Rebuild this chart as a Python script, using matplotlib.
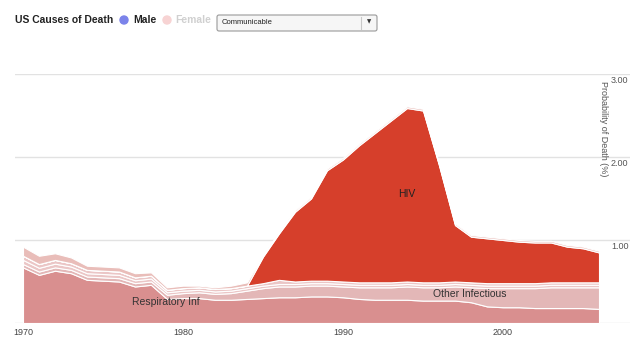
#!/usr/bin/env python3
import matplotlib
matplotlib.use("Agg")
import matplotlib.pyplot as plt
from matplotlib.patches import FancyBboxPatch, Circle

plt.rcParams['font.family'] = ['Liberation Sans', 'DejaVu Sans']

years = list(range(1970, 2007))

# probability of death (%) by cause, stacked bottom to top
respiratory_inf = [0.67, 0.58, 0.63, 0.60, 0.52, 0.51, 0.50, 0.44, 0.46, 0.29,
                   0.30, 0.30, 0.28, 0.28, 0.29, 0.30, 0.31, 0.31, 0.32, 0.32,
                   0.31, 0.29, 0.28, 0.28, 0.28, 0.27, 0.27, 0.27, 0.25, 0.20,
                   0.19, 0.19, 0.18, 0.18, 0.18, 0.18, 0.17]
other_infectious = [0.04, 0.04, 0.04, 0.04, 0.04, 0.04, 0.04, 0.04, 0.04, 0.05,
                    0.06, 0.07, 0.07, 0.08, 0.10, 0.12, 0.13, 0.13, 0.13, 0.13,
                    0.13, 0.14, 0.15, 0.15, 0.16, 0.16, 0.16, 0.17, 0.18, 0.22,
                    0.23, 0.23, 0.24, 0.25, 0.25, 0.25, 0.26]
minor_a = [0.05, 0.045, 0.045, 0.04, 0.04, 0.04, 0.04, 0.035, 0.035, 0.03] + [0.03] * 27
minor_b = ([0.05, 0.045, 0.045, 0.04, 0.04, 0.04, 0.04, 0.035, 0.035, 0.03]
           + [0.03, 0.03, 0.03, 0.03, 0.03, 0.03, 0.05, 0.03, 0.03, 0.03] + [0.03] * 17)
hiv = [0.0] * 15 + [0.32, 0.56, 0.84, 0.99, 1.33,
                    1.47, 1.65, 1.80, 1.95, 2.09, 2.07, 1.41, 0.68, 0.55, 0.54,
                    0.52, 0.50, 0.49, 0.48, 0.43, 0.41, 0.36]
minor_top = [0.11, 0.10, 0.08, 0.07, 0.05, 0.05, 0.05, 0.05, 0.04, 0.03,
             0.03, 0.02, 0.02, 0.03, 0.04] + [0.02] * 22

layer_colors = ['#d98f8f', '#e3b7b7', '#ebc6c6', '#ebc6c6', '#d63f2b', '#e9bdb9']
y_ticks = [1.0, 2.0, 3.0]

fig = plt.figure(figsize=(6.4, 3.6), dpi=100)
ax = fig.add_axes([15 / 640, 1 - 323 / 360, 615 / 640, 249 / 360])
x0 = 1970 - 8 / 16
x1 = 1970 + 607 / 16
ax.set_xlim(x0, x1)
ax.set_ylim(0, 3.0)
ax.axis('off')

for v in [0] + y_ticks:
    ax.axhline(v, color='#e2e2e2', lw=1, zorder=0)

ax.stackplot(years, respiratory_inf, other_infectious, minor_a, minor_b, hiv, minor_top,
             colors=layer_colors, edgecolor='white', linewidth=0.8, zorder=2)

# tick labels on the right
for v in y_ticks:
    ax.text(x1 - 0.1, v - 0.025, f'{v:.2f}', ha='right', va='top',
            fontsize=6.5, color='#555555')
ax.text(2006.3, 2.34, 'Probability of Death (%)', rotation=-90, ha='center',
        va='center', fontsize=6.5, color='#555555')
for yr in [1970, 1980, 1990, 2000]:
    ax.text(yr, -0.06, str(yr), ha='center', va='top', fontsize=6.5,
            color='#444444', clip_on=False)

# series labels
ax.text(1978.9, 0.25, 'Respiratory Inf', ha='center', va='center', fontsize=7.5, color='#333333')
ax.text(1994.0, 1.56, 'HIV', ha='center', va='center', fontsize=7.5, color='#222222')
ax.text(1997.9, 0.35, 'Other Infectious', ha='center', va='center', fontsize=7.5, color='#333333')

# header
fig.text(15 / 640, 1 - 20 / 360, 'US Causes of Death', fontsize=7.5, fontweight='bold',
         color='#222222', va='center')
fig.patches.append(Circle((124, 340), 4, transform=None, color='#7b83ea'))
fig.text(133 / 640, 1 - 20 / 360, 'Male', fontsize=7.5, fontweight='bold',
         color='#222222', va='center')
fig.patches.append(Circle((167, 340), 4, transform=None, color='#f7d3d3'))
fig.text(175 / 640, 1 - 20 / 360, 'Female', fontsize=7.5, fontweight='bold',
         color='#d0d0d0', va='center')

box = FancyBboxPatch((217, 360 - 31), 160, 16, boxstyle='round,pad=0,rounding_size=2',
                     transform=None, facecolor='#f6f6f6', edgecolor='#999999', lw=0.8)
fig.patches.append(box)
fig.lines.append(plt.Line2D([361, 361], [331, 343], transform=None, color='#c8c8c8', lw=0.8))
fig.text(222 / 640, 1 - 22 / 360, 'Communicable', fontsize=5.5, color='#222222', va='center')
fig.text(369 / 640, 1 - 22 / 360, '\u25BC', fontsize=4, color='#333333', va='center', ha='center',
         family='DejaVu Sans')

fig.savefig('out.png', dpi=100)
